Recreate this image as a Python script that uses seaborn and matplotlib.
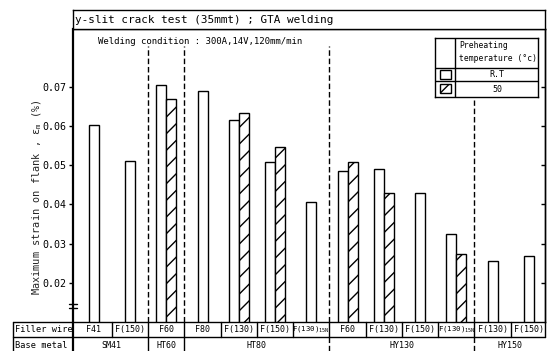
import numpy as np
import pandas as pd
import matplotlib
matplotlib.use("Agg")
import matplotlib.pyplot as plt
import seaborn as sns
from matplotlib.patches import Rectangle

# ---------------------------------------------------------------- data
filler_wires = ["F41", "F(150)", "F60", "F80", "F(130)", "F(150)",
                r"F(130)$_\mathrm{15N}$", "F60", "F(130)", "F(150)",
                r"F(130)$_\mathrm{15N}$", "F(130)", "F(150)"]
base_metal_of_wire = ["SM41", "SM41", "HT60", "HT80", "HT80", "HT80", "HT80",
                      "HY130", "HY130", "HY130", "HY130", "HY150", "HY150"]
base_metals = ["SM41", "HT60", "HT80", "HY130", "HY150"]
preheat_levels = ["R.T", "50"]
strain_rt = [0.0602, 0.0512, 0.0705, 0.0690, 0.0616, 0.0508, 0.0406,
             0.0486, 0.0491, 0.0429, 0.0324, 0.0257, 0.0268]
strain_50 = [np.nan, np.nan, 0.0669, np.nan, 0.0634, 0.0546, np.nan,
             0.0508, 0.0430, np.nan, 0.0274, np.nan, np.nan]
y_ticks = [0.02, 0.03, 0.04, 0.05, 0.06, 0.07]
y_tick_labels = ["0.02", "0.03", "0.04", "0.05", "0.06", "0.07"]
title = "y-slit crack test (35mmt) ; GTA welding"
condition = "Welding condition : 300A,14V,120mm/min"

# ---------------------------------------------------------------- style
sns.set_theme(style="ticks")
plt.rcParams.update({
    "font.family": ["DejaVu Sans Mono"],
    "mathtext.fontset": "custom",
    "mathtext.rm": "DejaVu Sans Mono",
    "mathtext.it": "DejaVu Sans Mono",
    "mathtext.bf": "DejaVu Sans Mono:bold",
    "hatch.linewidth": 1.0,
    "hatch.color": "black",
    "axes.edgecolor": "black",
    "text.color": "black",
    "ytick.color": "black",
})

W, H = 547, 351
fig = plt.figure(figsize=(W / 100, H / 100), dpi=100)
fig.patch.set_facecolor("white")


def fx(px):
    return px / W


def fy(py):
    return 1 - py / H


ax_left, ax_right, ax_top, ax_bot = 73, 545, 29, 322
ax = fig.add_axes([fx(ax_left), fy(ax_bot), (ax_right - ax_left) / W,
                   (ax_bot - ax_top) / H])

# bar positions: paired preheat bars sit side by side, single bars centred
bar_w = 0.276
rows = []
for i, (rt, p50) in enumerate(zip(strain_rt, strain_50)):
    paired = not np.isnan(p50)
    rows.append({"pos": i - bar_w / 2 if paired else float(i),
                 "strain": rt, "preheat": preheat_levels[0]})
    if paired:
        rows.append({"pos": i + bar_w / 2, "strain": p50,
                     "preheat": preheat_levels[1]})
df = pd.DataFrame(rows)

sns.barplot(data=df, x="pos", y="strain", hue="preheat",
            hue_order=preheat_levels, palette=["white", "white"],
            native_scale=True, dodge=False, width=1.0, errorbar=None,
            edgecolor="black", linewidth=1.0, legend=False, ax=ax)

hatched_pos = df.loc[df["preheat"] == preheat_levels[1], "pos"].to_numpy()
for p in ax.patches:
    cx = p.get_x() + p.get_width() / 2
    if np.any(np.isclose(cx, hatched_pos, atol=1e-6)):
        p.set_hatch("//")

n = len(filler_wires)
ax.set_xlim(-0.572, n - 0.555)
ax.set_ylim(0.0100, 0.0848)
ax.set_xticks([])
ax.set_xlabel("")
ax.set_yticks(y_ticks, y_tick_labels, fontsize=7.2)
ax.tick_params(axis="y", direction="out", length=3, width=1.0, pad=1.5,
               left=True, right=False)
for s in ax.spines.values():
    s.set_visible(True)
    s.set_linewidth(1.0)
    s.set_color("black")
ax.spines["left"].set_linewidth(1.6)

# inward ticks along the right frame
sec = ax.secondary_yaxis("right")
sec.set_yticks(y_ticks)
sec.tick_params(direction="in", length=3, width=1.0, labelright=False)
sec.spines["right"].set_linewidth(1.0)

ax.set_ylabel(r"Maximum strain on flank , ε$_\mathrm{m}$ (%)", fontsize=7.4)
ax.yaxis.set_label_coords(-0.076, 0.427)
ax.yaxis.label.set_va("center")

# axis break marks
ytr = ax.get_yaxis_transform()
for yb in (0.0146, 0.0136):
    ax.plot([-0.009, 0.009], [yb, yb], color="black", lw=1.0,
            transform=ytr, clip_on=False)

# group separators (dashed)
boundaries = [i + 0.5 for i in range(n - 1)
              if base_metal_of_wire[i] != base_metal_of_wire[i + 1]]
dash = (0, (4, 2))
for b in boundaries:
    top = 0.0667 if b > n - 3 else 0.0805
    ax.vlines(b, 0.0100, top, colors="black", linestyles=[dash], lw=1.0)

# condition note
fig.text(fx(98), fy(42), condition, fontsize=6.5, ha="left", va="center")

# title box
tax = fig.add_axes([fx(ax_left), fy(ax_top), (ax_right - ax_left) / W,
                    (ax_top - 10) / H])
tax.set_xticks([])
tax.set_yticks([])
for s in tax.spines.values():
    s.set_visible(True)
    s.set_linewidth(1.0)
    s.set_color("black")
tax.text(0.005, 0.45, title, fontsize=7.9, ha="left", va="center",
         transform=tax.transAxes)

# ---------------------------------------------------------------- table
xtr = ax.get_xaxis_transform()
h_ax = ax_bot - ax_top


def ay(py):
    return (ax_bot - py) / h_ax


row1_mid, row_div, row2_mid, tab_bot = 329.5, 337, 345.5, 351
x_lo, x_hi = ax.get_xlim()
for xv, label in enumerate(filler_wires):
    fs = 5.3 if "$" in label else 6.0
    ax.text(xv, ay(row1_mid), label, fontsize=fs, ha="center",
            va="center", transform=xtr, clip_on=False)
for xv in np.arange(n - 1) + 0.5:
    ax.plot([xv, xv], [ay(ax_bot), ay(row_div)], color="black", lw=1.0,
            transform=xtr, clip_on=False)
for metal in base_metals:
    idx = [i for i, m in enumerate(base_metal_of_wire) if m == metal]
    lo = max(idx[0] - 0.5, x_lo)
    hi = min(idx[-1] + 0.5, x_hi)
    ax.text((lo + hi) / 2, ay(row2_mid), metal, fontsize=6.0, ha="center",
            va="center", transform=xtr, clip_on=False)
for b in boundaries:
    style = "-" if b < 6 else dash
    ax.plot([b, b], [ay(row_div), ay(tab_bot)], color="black", lw=1.0,
            linestyle=style, transform=xtr, clip_on=False)

# header column and frame lines of the table
for (x0, y0, x1, y1, lw) in [(13, ax_bot, ax_left, ax_bot, 1.0),
                             (13, row_div, ax_right, row_div, 1.0),
                             (13, ax_bot, 13, tab_bot, 1.0),
                             (ax_left, ax_bot, ax_left, tab_bot, 1.6),
                             (ax_right, ax_bot, ax_right, row_div, 1.0)]:
    fig.add_artist(plt.Line2D([fx(x0), fx(x1)], [fy(y0), fy(y1)],
                              color="black", lw=lw))
fig.text(fx(15), fy(row1_mid), "Filler wire", fontsize=6.2, ha="left",
         va="center")
fig.text(fx(15), fy(row2_mid), "Base metal", fontsize=6.2, ha="left",
         va="center")

# ---------------------------------------------------------------- legend table
lx0, ly0, lx1, ly1 = 435, 38, 538, 97
lax = fig.add_axes([fx(lx0), fy(ly1), (lx1 - lx0) / W, (ly1 - ly0) / H])
lax.set_xlim(0, lx1 - lx0)
lax.set_ylim(ly1 - ly0, 0)
lax.set_xticks([])
lax.set_yticks([])
lax.set_facecolor("white")
for s in lax.spines.values():
    s.set_visible(True)
    s.set_linewidth(1.0)
    s.set_color("black")
lax.plot([20, 20], [0, ly1 - ly0], color="black", lw=1.0)
lax.plot([0, lx1 - lx0], [30, 30], color="black", lw=1.0)
lax.plot([0, lx1 - lx0], [43, 43], color="black", lw=1.0)
lax.text(24, 7.5, "Preheating", fontsize=5.8, ha="left", va="center")
lax.text(24, 20.5, "temperature (°c)", fontsize=5.8, ha="left", va="center",
         clip_on=True)
lax.text(62, 36.5, preheat_levels[0], fontsize=6.0, ha="center", va="center")
lax.text(62, 51.5, preheat_levels[1], fontsize=6.0, ha="center", va="center")
lax.add_patch(Rectangle((5, 32), 11, 9, facecolor="white",
                        edgecolor="black", lw=1.0))
lax.add_patch(Rectangle((5, 46), 11, 9, facecolor="white",
                        edgecolor="black", lw=1.0, hatch="///"))

fig.savefig("out.png", dpi=100, facecolor="white")
